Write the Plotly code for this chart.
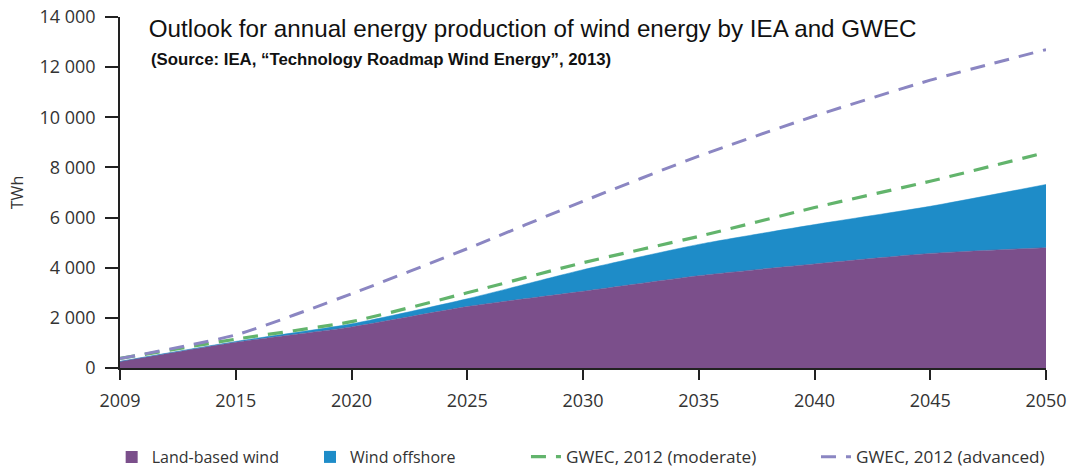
import plotly.graph_objects as go

years = ["2009", "2015", "2020", "2025", "2030", "2035", "2040", "2045", "2050"]
land_based = [260, 1030, 1640, 2450, 3060, 3680, 4150, 4570, 4800]
offshore = [5, 30, 120, 310, 860, 1250, 1570, 1880, 2520]
gwec_moderate = [380, 1150, 1850, 3000, 4200, 5250, 6400, 7450, 8600]
gwec_advanced = [380, 1320, 2960, 4760, 6650, 8450, 10050, 11480, 12700]

y_ticks = [0, 2000, 4000, 6000, 8000, 10000, 12000, 14000]
y_ticktext = ["0", "2 000", "4 000", "6 000", "8 000", "10 000", "12 000", "14 000"]

c_land = "#7b4f8b"
c_off = "#1e8cc8"
c_mod = "#62b46c"
c_adv = "#8b86c2"
txt = "#333333"

fig = go.Figure()
fig.add_trace(go.Scatter(x=years, y=land_based, stackgroup="s", mode="lines",
                         line=dict(width=0.5, color=c_land, shape="spline", smoothing=0.6),
                         fillcolor=c_land,
                         name="Land-based wind", legendgroup="land", showlegend=False))
fig.add_trace(go.Scatter(x=years, y=offshore, stackgroup="s", mode="lines",
                         line=dict(width=0.5, color=c_off, shape="spline", smoothing=0.6),
                         fillcolor=c_off,
                         name="Wind offshore", legendgroup="off", showlegend=False))
fig.add_trace(go.Scatter(x=years, y=gwec_moderate, mode="lines",
                         line=dict(color=c_mod, width=3.2, dash="15px,10px", shape="spline", smoothing=0.6),
                         name="GWEC, 2012 (moderate)", legend="legend3"))
fig.add_trace(go.Scatter(x=years, y=gwec_advanced, mode="lines",
                         line=dict(color=c_adv, width=3, dash="15px,10px", shape="spline", smoothing=0.6),
                         name="GWEC, 2012 (advanced)", legend="legend4"))
# legend swatches for the areas
fig.add_trace(go.Scatter(x=[None], y=[None], mode="markers",
                         marker=dict(symbol="square", size=12, color=c_land),
                         name="Land-based wind", legendgroup="land", legend="legend"))
fig.add_trace(go.Scatter(x=[None], y=[None], mode="markers",
                         marker=dict(symbol="square", size=12, color=c_off),
                         name="Wind offshore", legendgroup="off", legend="legend2"))

leg_common = dict(orientation="h", yanchor="middle", y=-0.2536, xanchor="left",
                  bgcolor="rgba(0,0,0,0)")
f16 = dict(family="Open Sans", size=16, color=txt)
f17 = dict(family="Open Sans", size=17.2, color=txt)

fig.update_layout(
    width=1070, height=468,
    margin=dict(l=120, r=24, t=17, b=100, autoexpand=False),
    paper_bgcolor="white", plot_bgcolor="white",
    font=dict(family="Open Sans", color=txt),
    title=dict(text="Outlook for annual energy production of wind energy by IEA and GWEC",
               font=dict(family="Liberation Sans", size=24.2, color="#111111"),
               xref="paper", x=0.0311, xanchor="left",
               yref="container", y=1 - 29 / 468, yanchor="middle"),
    annotations=[dict(text="<b>(Source: IEA, \u201cTechnology Roadmap Wind Energy\u201d, 2013)</b>",
                      xref="paper", yref="paper", x=0.0311, y=(368 - 60) / 351,
                      xanchor="left", yanchor="middle", showarrow=False,
                      font=dict(family="Liberation Sans", size=16.8, color="#111111"))],
    legend=dict(x=-0.009, font=f16, **leg_common),
    legend2=dict(x=0.2052, font=f16, **leg_common),
    legend3=dict(x=0.4384, font=f17, **leg_common),
    legend4=dict(x=0.7516, font=f17, **leg_common),
    xaxis=dict(type="category", range=[0, 8], showgrid=False, zeroline=False,
               showline=True, linecolor="#222222", linewidth=1.5,
               ticks="outside", ticklen=10, tickwidth=1.5, tickcolor="#222222",
               tickfont=dict(family="Open Sans", size=18, color=txt),
               ticklabelstandoff=6),
    yaxis=dict(range=[0, 14000], tickvals=y_ticks, ticktext=y_ticktext,
               showgrid=False, zeroline=False,
               showline=True, linecolor="#222222", linewidth=1.5,
               ticks="outside", ticklen=13, tickwidth=1.5, tickcolor="#222222",
               tickfont=dict(family="Open Sans", size=18, color=txt),
               ticklabelstandoff=6,
               title=dict(text="TWh", font=dict(family="Open Sans", size=16, color=txt), standoff=12)),
)

fig.write_html("out.html")
